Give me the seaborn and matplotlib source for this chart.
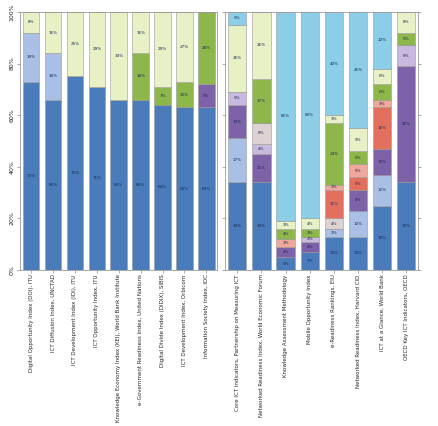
import matplotlib
matplotlib.use('Agg')
import matplotlib.pyplot as plt
import seaborn as sns
import pandas as pd
import numpy as np

sns.set_style('white')
plt.rcParams['font.family'] = ['DejaVu Sans']

# left panel: composite indices
left_labels = [
    "Digital Opportunity Index (DOI), ITU",
    "ICT Diffusion Index, UNCTAD",
    "ICT Development Index (IDI), ITU",
    "ICT Opportunity Index, ITU",
    "Knowledge Economy Index (KEI), World Bank Institute",
    "e-Government Readiness Index, United Nations",
    "Digital Divide Index (DIDIX), SIBIS",
    "ICT Development Index, Orbicom",
    "Information Society Index, IDC",
]
left_blue = [73, 66, 75, 71, 66, 66, 64, 63, 63]
left_lightblue = [19, 18, 0, 0, 0, 0, 0, 0, 0]
left_purple = [0, 0, 0, 0, 0, 0, 0, 0, 9]
left_green = [0, 0, 0, 0, 0, 18, 7, 10, 28]
left_yellow = [8, 16, 25, 29, 34, 16, 29, 27, 0]

# right panel: indicator sets
right_labels = [
    "Core ICT Indicators, Partnership on Measuring ICT",
    "Networked Readiness Index, World Economic Forum",
    "Knowledge Assessment Methodology",
    "Mobile Opportunity Index",
    "e-Readiness Rankings, EIU",
    "Networked Readiness Index, Harvard CID",
    "ICT at a Glance, World Bank",
    "OECD Key ICT Indicators, OECD",
]
right_blue = [34, 34, 5, 7, 13, 13, 25, 34]
right_lightblue = [17, 0, 0, 0, 3, 10, 12, 0]
right_purple = [13, 11, 4, 4, 0, 8, 10, 45]
right_lavender = [5, 4, 0, 2, 0, 0, 0, 8]
right_greypink = [0, 8, 0, 0, 4, 0, 0, 0]
right_salmon = [0, 0, 0, 0, 11, 5, 16, 0]
right_pink = [0, 0, 3, 0, 2, 5, 3, 0]
right_green = [0, 17, 4, 3, 24, 5, 6, 5]
right_yellow = [26, 26, 3, 4, 3, 9, 6, 8]
right_sky = [5, 0, 81, 80, 40, 45, 22, 0]

y_ticks = [0, 20, 40, 60, 80, 100]
y_ticklabels = ["0%", "20%", "40%", "60%", "80%", "100%"]

colors = {
    'blue': '#4a7cbb', 'lightblue': '#a9bfe6', 'purple': '#7e62a9',
    'lavender': '#c8b9de', 'greypink': '#ddd2d2', 'salmon': '#e3705f',
    'pink': '#f0a79c', 'green': '#8db74b', 'yellow': '#e8f0c6', 'sky': '#8ccde7',
}

left_series = [('blue', left_blue), ('lightblue', left_lightblue), ('purple', left_purple),
               ('green', left_green), ('yellow', left_yellow)]
right_series = [('blue', right_blue), ('lightblue', right_lightblue), ('purple', right_purple),
                ('lavender', right_lavender), ('greypink', right_greypink), ('salmon', right_salmon),
                ('pink', right_pink), ('green', right_green), ('yellow', right_yellow), ('sky', right_sky)]


def stacked(ax, labels, series):
    bottom = np.zeros(len(labels))
    for name, vals in series:
        vals = np.array(vals, dtype=float)
        df = pd.DataFrame({'idx': labels, 'val': vals})
        sns.barplot(data=df, x='idx', y='val', order=labels, bottom=bottom,
                    color=colors[name], saturation=1, width=0.76,
                    edgecolor='#9a9a9a', linewidth=0.4, ax=ax)
        for i, v in enumerate(vals):
            if v >= 2:
                ax.text(i, bottom[i] + v / 2, f"{v:.0f}%", ha='center', va='center',
                        fontsize=3, color='#1a2a50')
        bottom += vals
    ax.set_ylim(0, 100)
    ax.set_xlim(-0.5, len(labels) - 0.5)
    ax.set_yticks(y_ticks)
    ax.set_xlabel('')
    ax.set_ylabel('')
    ax.tick_params(axis='x', labelrotation=90, labelsize=4, length=2, width=0.5, pad=1,
                   color='#888888')
    ax.tick_params(axis='y', labelsize=4.5, length=2, width=0.5, pad=1, color='#888888')
    for s in ax.spines.values():
        s.set_color('#999999')
        s.set_linewidth(0.6)
    for lab in ax.get_xticklabels():
        lab.set_va('top')


fig = plt.figure(figsize=(4.39, 4.26), dpi=100)
ax1 = fig.add_axes([0.046, 0.366, 0.449, 0.606])
ax2 = fig.add_axes([0.513, 0.366, 0.44, 0.606])

stacked(ax1, left_labels, left_series)
stacked(ax2, right_labels, right_series)

ax1.set_yticklabels(y_ticklabels, rotation=90, va='center')
ax1.tick_params(axis='y', pad=2)
ax2.set_yticklabels([])
ax2.tick_params(axis='y', left=True, right=True, direction='out')
ax1.tick_params(axis='y', left=True)
ax1.tick_params(axis='x', bottom=True)
ax2.tick_params(axis='x', bottom=True)

fig.savefig('out.png', dpi=100)
